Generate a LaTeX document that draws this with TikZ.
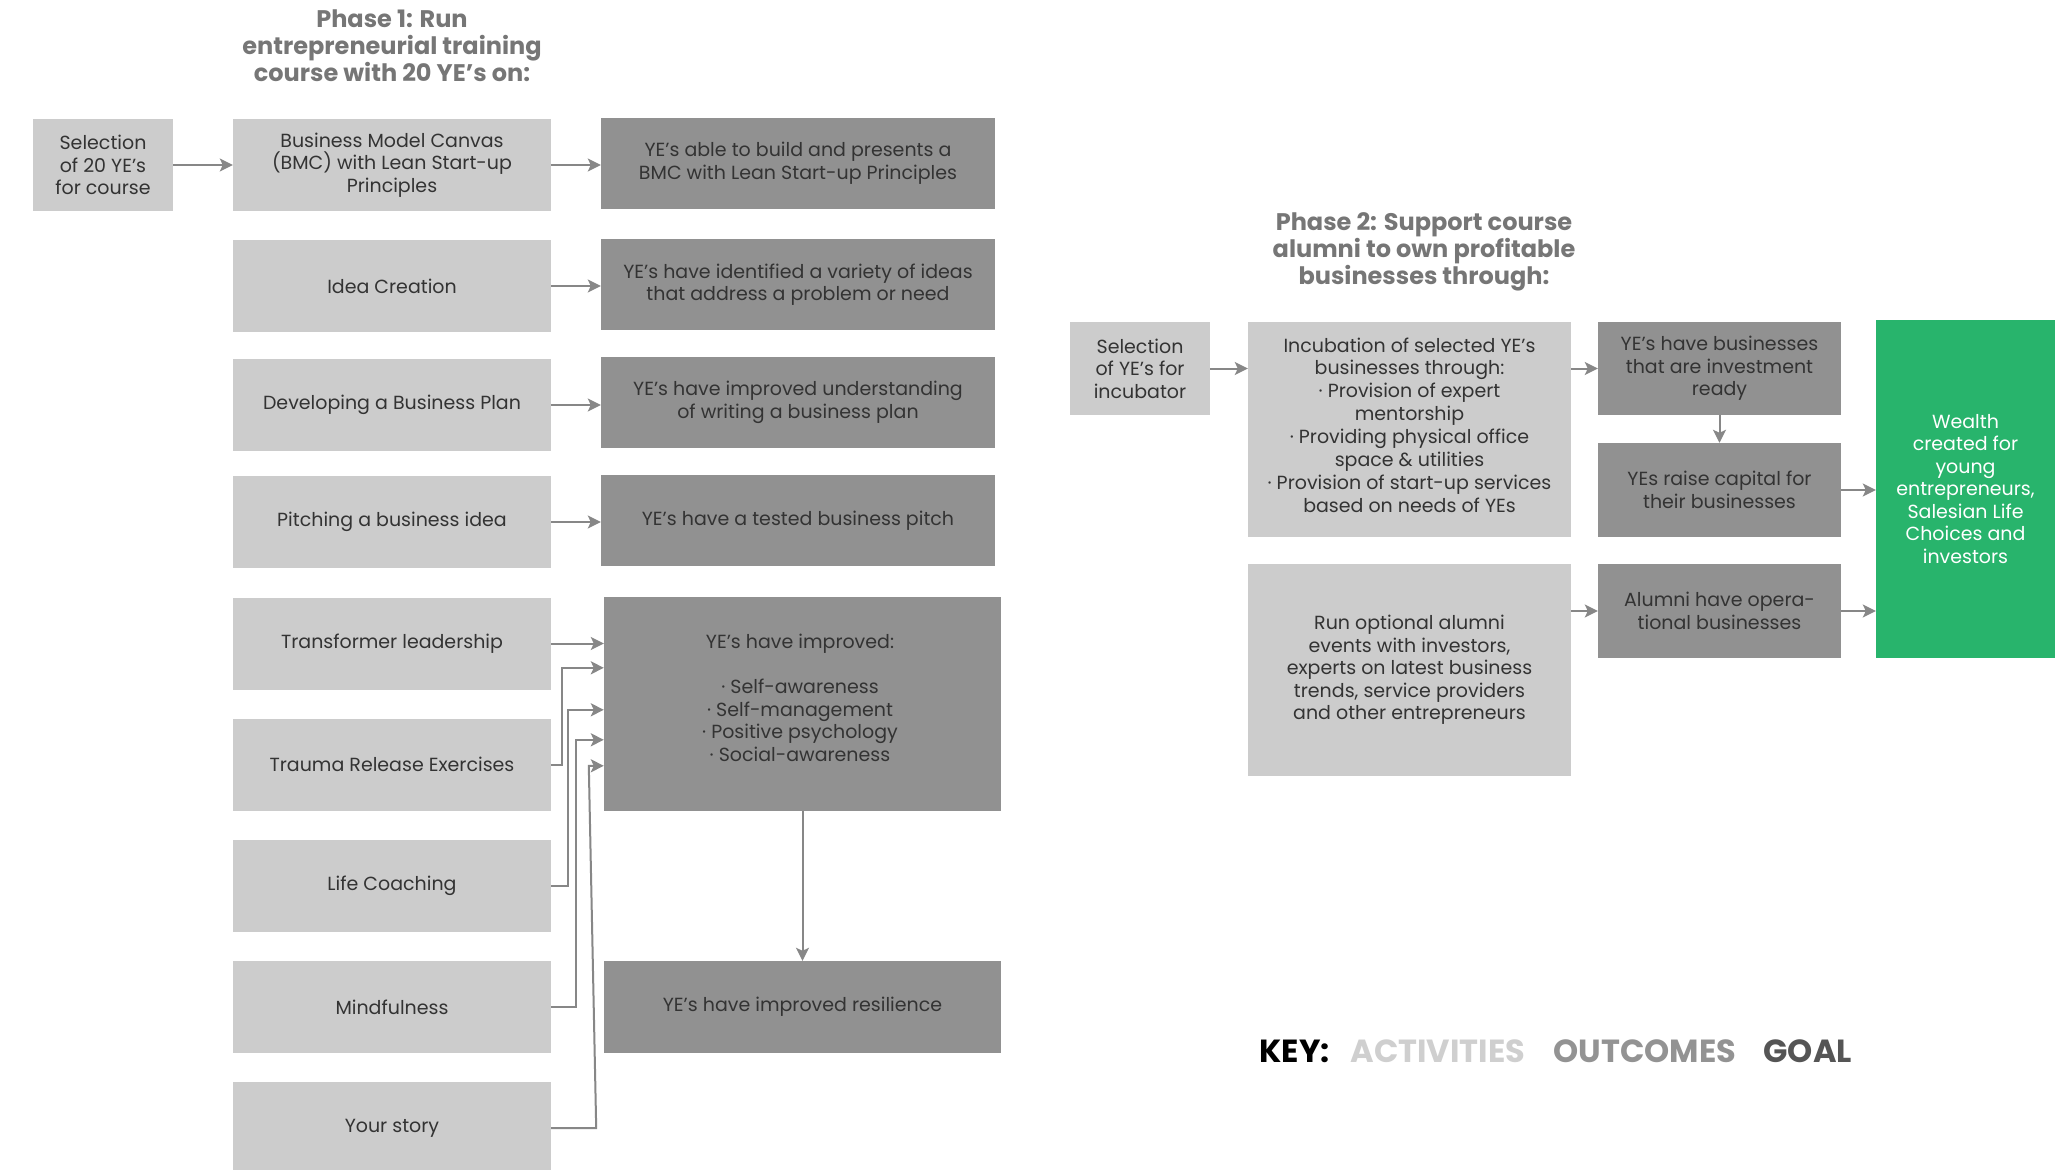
\documentclass[tikz,border=0pt]{standalone}
\usepackage{fontspec}
\setmainfont{Poppins}
\usetikzlibrary{arrows.meta,calc}
\definecolor{actfill}{HTML}{CCCCCC}
\definecolor{outfill}{HTML}{919191}
\definecolor{goalfill}{HTML}{28B46C}
\definecolor{boxtext}{HTML}{333333}
\definecolor{headtext}{HTML}{767676}
\definecolor{linkgray}{HTML}{878787}
\definecolor{keyact}{HTML}{CFCFCF}
\definecolor{keyout}{HTML}{939393}
\definecolor{keygoal}{HTML}{555555}
\begin{document}
\begin{tikzpicture}[x=1pt,y=-1pt,
  box/.style={inner sep=0pt, align=center, text=boxtext, font=\fontsize{19}{22.5}\selectfont},
  actbox/.style={box, fill=actfill},
  outbox/.style={box, fill=outfill},
  goalbox/.style={box, fill=goalfill, text=white},
  arr/.style={draw=linkgray, line width=2pt, -{Stealth[length=13pt,width=13pt,inset=3pt]}},
  head/.style={align=center, text=headtext, font=\fontsize{24}{27}\selectfont\bfseries},
  keyword/.style={anchor=base west, font=\fontsize{32}{36}\selectfont\bfseries}
]
\useasboundingbox[fill=white] (0,0) rectangle (2067,1170);

% ---------- Phase 1 ----------
\node[head] (h1) at (392,46) {Phase 1: Run\\entrepreneurial training\\course with 20 YE’s on:};

\node[actbox, minimum width=140pt, minimum height=92pt] (sel1) at (103,165) {Selection\\of 20 YE’s\\for course};
\node[actbox, minimum width=318pt, minimum height=92pt] (bmc) at (392,165) {Business Model Canvas\\(BMC) with Lean Start-up\\Principles};
\node[actbox, minimum width=318pt, minimum height=92pt] (idea) at (392,286) {Idea Creation};
\node[actbox, minimum width=318pt, minimum height=92pt] (dev) at (392,405) {Developing a Business Plan};
\node[actbox, minimum width=318pt, minimum height=92pt] (pitch) at (392,522) {Pitching a business idea};
\node[actbox, minimum width=318pt, minimum height=92pt] (trans) at (392,643.5) {Transformer leadership};
\node[actbox, minimum width=318pt, minimum height=92pt] (trauma) at (392,764.5) {Trauma Release Exercises};
\node[actbox, minimum width=318pt, minimum height=92pt] (life) at (392,886) {Life Coaching};
\node[actbox, minimum width=318pt, minimum height=92pt] (mind) at (392,1007) {Mindfulness};
\node[actbox, minimum width=318pt, minimum height=92pt] (story) at (392,1128) {Your story};

\node[outbox, minimum width=394pt, minimum height=91pt] (o1) at (798,163) {YE’s able to build and presents a\\BMC with Lean Start-up Principles};
\node[outbox, minimum width=394pt, minimum height=91pt] (o2) at (798,284.5) {YE’s have identified a variety of ideas\\that address a problem or need};
\node[outbox, minimum width=394pt, minimum height=91pt] (o3) at (798,402.5) {YE’s have improved understanding\\of writing a business plan};
\node[outbox, minimum width=394pt, minimum height=91pt] (o4) at (798,520.5) {YE’s have a tested business pitch};
\node[outbox, minimum width=397pt, minimum height=214pt] (improved) at (802.5,704) {};
\node[box] (improvedtext) at (800,698) {YE’s have improved:\\[22.5pt]· Self-awareness\\· Self-management\\· Positive psychology\\· Social-awareness};
\node[outbox, minimum width=397pt, minimum height=92pt] (resil) at (802.5,1007) {YE’s have improved resilience};

\draw[arr] (sel1.east) -- (bmc.west);
\draw[arr] (bmc.east) -- (bmc.east -| o1.west);
\draw[arr] (idea.east) -- (idea.east -| o2.west);
\draw[arr] (dev.east) -- (dev.east -| o3.west);
\draw[arr] (pitch.east) -- (pitch.east -| o4.west);
\draw[arr] (trans.east) -- (trans.east -| improved.west);
\draw[arr] (trauma.east) -- ++(11,0) |- ($(improved.north west)+(0,71)$);
\draw[arr] (life.east) -- ++(17,0) |- ($(improved.north west)+(0,113)$);
\draw[arr] (mind.east) -- ++(25,0) |- ($(improved.north west)+(0,143)$);
\draw[arr] (story.east) -- ++(45,0) -- ($(improved.north west)+(-15,169)$) -- ($(improved.north west)+(0,169)$);
\draw[arr] (improved.south) -- (resil.north);

% ---------- Phase 2 ----------
\node[head] (h2) at (1424,252) {Phase 2: Support course\\alumni to own profitable\\businesses through:};

\node[actbox, minimum width=140pt, minimum height=93pt] (sel2) at (1140,368.5) {Selection\\of YE’s for\\incubator};
\node[actbox, minimum width=323pt, minimum height=215pt] (incub) at (1409.5,429.5) {};
\node[box, font=\fontsize{19}{22.9}\selectfont] (incubtext) at (1409.5,425) {Incubation of selected YE’s\\businesses through:\\· Provision of expert\\mentorship\\· Providing physical office\\space \& utilities\\· Provision of start-up services\\based on needs of YEs};
\node[actbox, minimum width=323pt, minimum height=212pt] (run) at (1409.5,670) {Run optional alumni\\events with investors,\\experts on latest business\\trends, service providers\\and other entrepreneurs};
\node[outbox, minimum width=243pt, minimum height=93pt] (inv) at (1719.5,368.5) {YE’s have businesses\\that are investment\\ready};
\node[outbox, minimum width=243pt, minimum height=94pt] (raise) at (1719.5,490) {YEs raise capital for\\their businesses};
\node[outbox, minimum width=243pt, minimum height=94pt] (alum) at (1719.5,611) {Alumni have opera-\\tional businesses};
\node[goalbox, minimum width=179pt, minimum height=338pt] (wealth) at (1965.5,489) {Wealth\\created for\\young\\entrepreneurs,\\Salesian Life\\Choices and\\investors};

\draw[arr] (sel2.east) -- (sel2.east -| incub.west);
\draw[arr] (inv.west -| incub.east) -- (inv.west);
\draw[arr] (inv.south) -- (raise.north);
\draw[arr] (raise.east) -- (raise.east -| wealth.west);
\draw[arr] (alum.west -| run.east) -- (alum.west);
\draw[arr] (alum.east) -- (alum.east -| wealth.west);

% ---------- Key ----------
\node[keyword, text=black] (k0) at (1256,1062) {KEY:};
\node[keyword, text=keyact] (k1) at (1347,1062) {ACTIVITIES};
\node[keyword, text=keyout] (k2) at (1550,1062) {OUTCOMES};
\node[keyword, text=keygoal] (k3) at (1760,1062) {GOAL};
\end{tikzpicture}
\end{document}
